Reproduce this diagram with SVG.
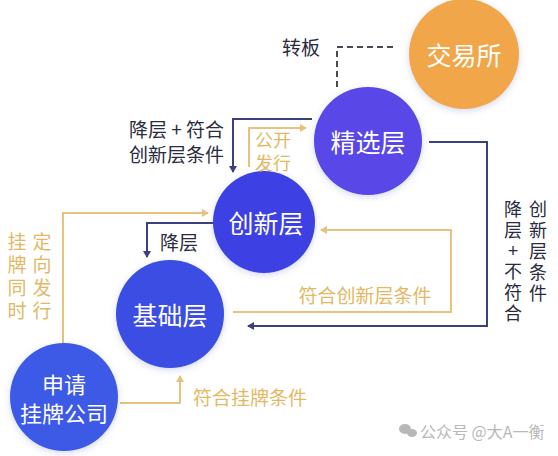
<svg xmlns="http://www.w3.org/2000/svg" width="558" height="456" viewBox="0 0 558 456">
<defs>
<style>
text{font-family:"Noto Sans CJK SC","Noto Sans",sans-serif}
.node{fill:#fff;font-size:25px;text-anchor:middle;dominant-baseline:central}
.dark{fill:#2a2b40;font-size:19px}
.gold{fill:#e3b865;font-size:19px}
.navy{fill:none;stroke:#3d4080;stroke-width:2}
.gl{fill:none;stroke:#e6c27c;stroke-width:2}
.col text{text-anchor:middle;font-family:"Liberation Sans","Noto Sans CJK SC",sans-serif}
.tight{font-family:"Liberation Sans","Noto Sans CJK SC",sans-serif}
</style>
<filter id="sh" x="-20%" y="-20%" width="140%" height="140%">
<feDropShadow dx="0" dy="2" stdDeviation="3" flood-color="#5060c0" flood-opacity="0.25"/>
</filter>
<marker id="an" markerWidth="8" markerHeight="8" refX="6" refY="4" orient="auto" markerUnits="userSpaceOnUse">
<path d="M0,0 L7,4 L0,8 Z" fill="#3d4080"/>
</marker>
<marker id="ag" markerWidth="8" markerHeight="8" refX="6" refY="4" orient="auto" markerUnits="userSpaceOnUse">
<path d="M0,0 L7,4 L0,8 Z" fill="#e6c27c"/>
</marker>
</defs>
<rect width="558" height="456" fill="#ffffff"/>

<g id="connectors">
<path d="M337,87 V47 H395" fill="none" stroke="#4a4a55" stroke-width="2" stroke-dasharray="6,4"/>
<path class="navy" d="M312,119 H233 V172" marker-end="url(#an)"/>
<path class="gl" d="M249,167 V128 H306" marker-end="url(#ag)"/>
<path class="gl" d="M63,343 V213 H208" marker-end="url(#ag)"/>
<path class="navy" d="M214,223 H147 V257" marker-end="url(#an)"/>
<path class="gl" d="M233,312 H451 V230 H321" marker-end="url(#ag)"/>
<path class="navy" d="M429,142 H487 V326 H248" marker-end="url(#an)"/>
<path class="gl" d="M120,403 H180 V376" marker-end="url(#ag)"/>
</g>

<g id="jiaoyisuo"><circle cx="464" cy="54" r="55" fill="#f0a648" filter="url(#sh)"/><text class="node" x="464" y="54">交易所</text></g>
<g id="jingxuan"><circle cx="368" cy="141" r="54" fill="#5a46e8" filter="url(#sh)"/><text class="node" x="368" y="141">精选层</text></g>
<g id="chuangxin"><circle cx="264" cy="222" r="51" fill="#3e3fe2" filter="url(#sh)"/><text class="node" x="266" y="222">创新层</text></g>
<g id="jichu"><circle cx="170" cy="314" r="54" fill="#3b4ee3" filter="url(#sh)"/><text class="node" x="170" y="314">基础层</text></g>
<g id="shenqing"><circle cx="64" cy="397" r="54" fill="#3e5ae6" filter="url(#sh)"/><text class="node" x="64" y="383" style="font-size:22px">申请</text><text class="node" x="64" y="412" style="font-size:22px">挂牌公司</text></g>

<g id="labels">
<text class="dark" x="301" y="55" text-anchor="middle">转板</text>
<text class="dark" x="224" y="137" text-anchor="end">降层 + 符合</text>
<text class="dark" x="224" y="162" text-anchor="end">创新层条件</text>
<text class="gold tight" x="273" y="147" text-anchor="middle" style="font-size:18px">公开</text>
<text class="gold tight" x="273" y="170" text-anchor="middle" style="font-size:18px">发行</text>
<text class="dark" x="179" y="250" text-anchor="middle">降层</text>
<text class="gold" x="365" y="303" text-anchor="middle">符合创新层条件</text>
<text class="gold" x="250" y="405" text-anchor="middle">符合挂牌条件</text>
<g class="gold col" style="font-size:19px">
<text x="17" y="249">挂</text><text x="17" y="272">牌</text><text x="17" y="295">同</text><text x="17" y="318">时</text>
<text x="42" y="249">定</text><text x="42" y="272">向</text><text x="42" y="295">发</text><text x="42" y="318">行</text>
</g>
<g class="dark col" style="font-size:18px">
<text x="513" y="216">降</text><text x="513" y="237">层</text><text x="513" y="257">+</text><text x="513" y="278">不</text><text x="513" y="299">符</text><text x="513" y="320">合</text>
<text x="538" y="216">创</text><text x="538" y="237">新</text><text x="538" y="258">层</text><text x="538" y="279">条</text><text x="538" y="300">件</text>
</g>
</g>

<g id="watermark" fill="#b8b8b8">
<ellipse cx="405" cy="429" rx="6" ry="5"/><ellipse cx="412" cy="433" rx="5" ry="4"/>
<text x="420" y="438" style="font-size:16px" fill="#b8b8b8">公众号 @大A一衡</text>
</g>
</svg>
